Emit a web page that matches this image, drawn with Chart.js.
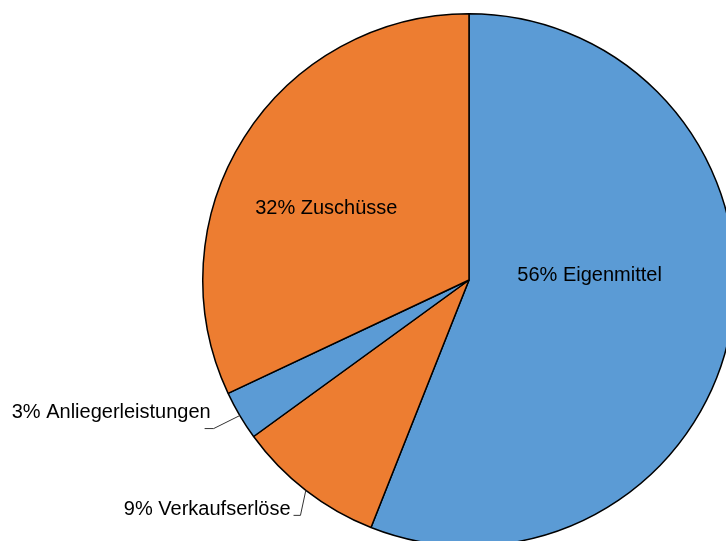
<!DOCTYPE html>
<html>
<head>
<meta charset="utf-8">
<script src="https://cdn.jsdelivr.net/npm/chart.js@4"></script>
<style>
  html, body { margin: 0; padding: 0; background: #fff; overflow: hidden; }
  #wrap { position: absolute; left: 0; top: 0; width: 726px; height: 541px; overflow: hidden; }
  canvas { position: absolute; left: 0; top: 0; }
</style>
</head>
<body>
<div id="wrap"><canvas id="chart-pie" width="938" height="560"></canvas></div>
<script>
const categories = ["Eigenmittel", "Verkaufserlöse", "Anliegerleistungen", "Zuschüsse"];
const shares = [56, 9, 3, 32];

// label placement in units of the pie radius, relative to the centre
const labelSpots = [
  { x: 0.453, y: -0.018, align: "center" },
  { x: -0.670, y: 0.862, align: "right", elbow: [-0.633, 0.884], end: [-0.659, 0.884] },
  { x: -0.970, y: 0.498, align: "right", elbow: [-0.959, 0.558], end: [-0.993, 0.558] },
  { x: -0.536, y: -0.269, align: "center" },
];

const pieLabels = {
  id: "pieLabels",
  afterDatasetsDraw(chart) {
    const ctx = chart.ctx;
    const arcs = chart.getDatasetMeta(0).data;
    const total = shares.reduce((a, b) => a + b, 0);
    ctx.save();
    ctx.font = '20px "Liberation Sans", Arial, sans-serif';
    ctx.fillStyle = "#000";
    ctx.textBaseline = "middle";
    arcs.forEach((arc, i) => {
      const { x, y, outerRadius: r, startAngle, endAngle } = arc.getProps(
        ["x", "y", "outerRadius", "startAngle", "endAngle"], true);
      const spot = labelSpots[i];
      const text = Math.round((shares[i] / total) * 100) + "% " + categories[i];
      if (spot.elbow) {
        const mid = (startAngle + endAngle) / 2;
        ctx.strokeStyle = "#333";
        ctx.lineWidth = 1;
        ctx.beginPath();
        ctx.moveTo(x + Math.cos(mid) * r, y + Math.sin(mid) * r);
        ctx.lineTo(x + spot.elbow[0] * r, y + spot.elbow[1] * r);
        ctx.lineTo(x + spot.end[0] * r, y + spot.end[1] * r);
        ctx.stroke();
      }
      ctx.textAlign = spot.align;
      ctx.fillText(text, x + spot.x * r, y + spot.y * r);
    });
    ctx.restore();
  },
};

new Chart(document.getElementById("chart-pie"), {
  type: "pie",
  data: {
    labels: categories,
    datasets: [
      {
        data: shares,
        backgroundColor: ["#5B9BD5", "#ED7D31", "#5B9BD5", "#ED7D31"],
        borderColor: "#000",
        borderWidth: 1.5,
      },
    ],
  },
  options: {
    responsive: false,
    animation: false,
    layout: { padding: { top: 13, bottom: 13, left: 202, right: 202 } },
    plugins: {
      legend: { display: false },
      tooltip: { enabled: false },
    },
  },
  plugins: [pieLabels],
});
</script>
</body>
</html>
